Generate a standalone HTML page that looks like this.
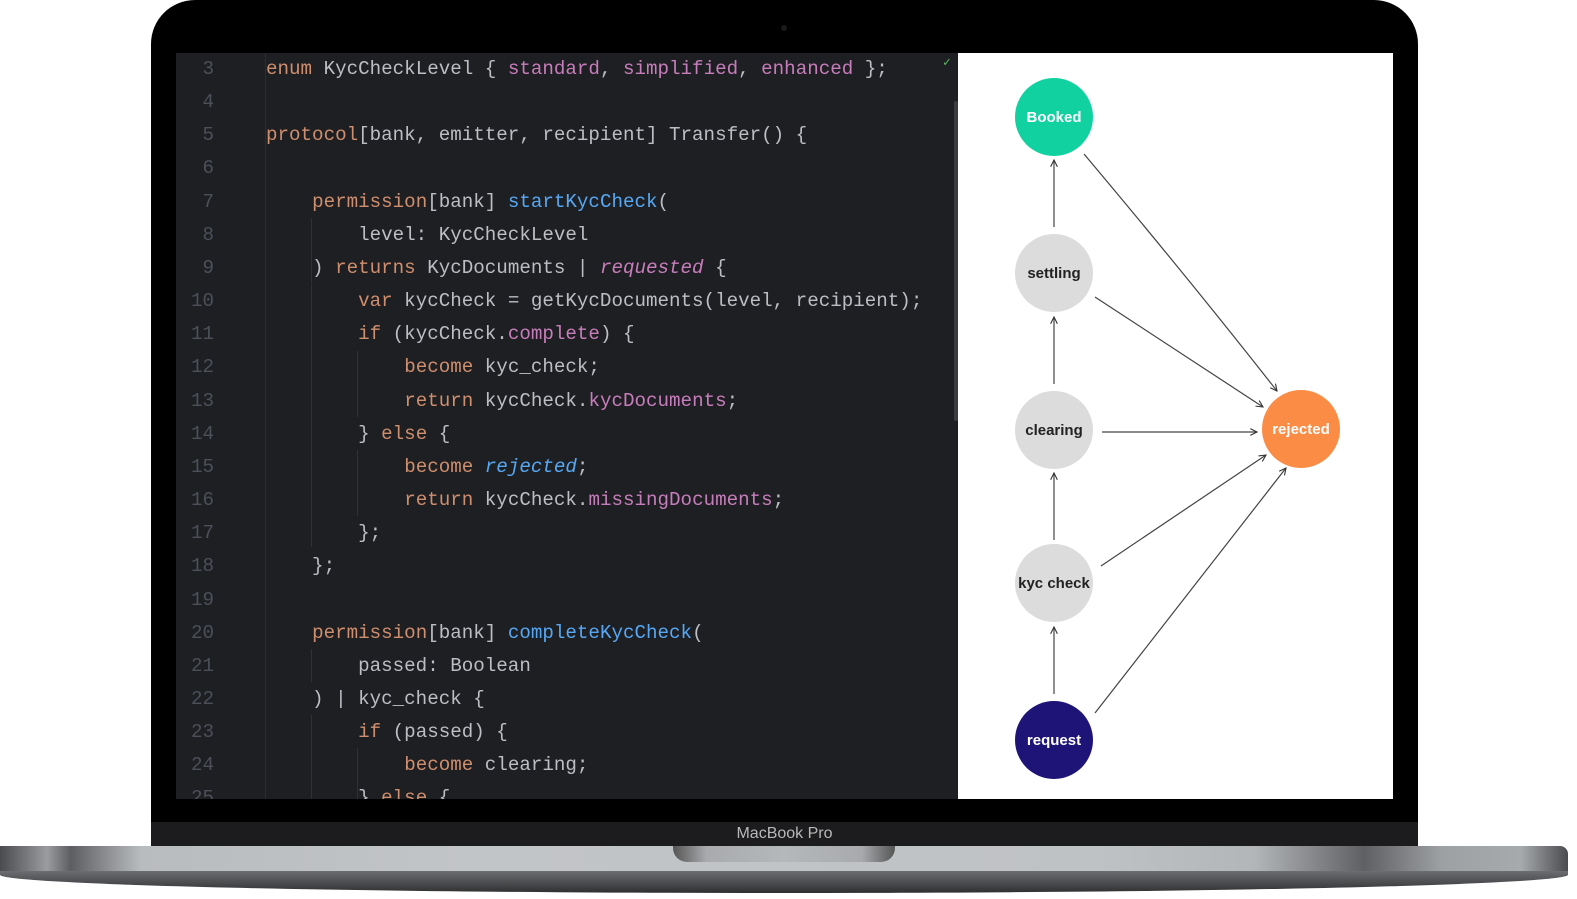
<!DOCTYPE html>
<html><head><meta charset="utf-8"><style>
*{margin:0;padding:0;box-sizing:border-box}
body{width:1577px;height:899px;background:#fff;position:relative;overflow:hidden;font-family:"Liberation Sans",sans-serif}
.lid{position:absolute;left:151px;top:0;width:1267px;height:850px;background:#000;border-radius:44px 44px 0 0}
.chin{position:absolute;left:151px;top:822px;width:1267px;height:26px;background:#1c1c1e;color:#b8b8b8;font-size:16px;text-align:center;line-height:24px}
.base{position:absolute;left:0;top:846px;width:1568px;height:26px;background:linear-gradient(90deg,#4a4b4e 0%,#9a9c9f 3%,#5d5e61 4.5%,#b9bcbf 9%,#c2c5c8 30%,#bfc2c5 70%,#b3b6b9 80%,#5f6063 87%,#9ea1a4 92%,#a7aaad 97%,#4a4b4e 100%);border-radius:0 8px 0 0}
.base2{position:absolute;left:0;top:871px;width:1568px;height:22px;background:linear-gradient(180deg,#6c6d70,#2e2f31);border-radius:0 0 60% 60%/0 0 100% 100%}
.notch{position:absolute;left:673px;top:846px;width:222px;height:16px;background:linear-gradient(90deg,#555 0%,#a8aaad 15%,#b5b8bb 50%,#a8aaad 85%,#555 100%);border-radius:0 0 14px 14px}
.code{position:absolute;left:176px;top:53px;width:782px;height:746px;background:#1e1f22;overflow:hidden;font-family:"Liberation Mono",monospace;font-size:19.2px;color:#bcbec4}
.ln{position:absolute;left:0;width:38px;text-align:right;color:#4b5059}
.l{position:absolute;left:90px;white-space:pre}
.g{position:absolute;width:1px;background:#2f3136}
.k{color:#cf8e6d}.p{color:#c77dbb}.b{color:#56a8f5}.i{font-style:italic}
.graph{position:absolute;left:958px;top:53px;width:435px;height:746px;background:#fff}
</style></head><body>
<div class="lid"></div>
<div class="chin">MacBook Pro</div>
<div class="base"></div><div class="base2"></div><div class="notch"></div>
<div style="position:absolute;left:781px;top:25px;width:6px;height:6px;border-radius:50%;background:#1a1a1a"></div>
<div class="code">
<div class="g" style="left:89px;top:0;height:746px;background:#2b2d30"></div>
<div class="g" style="left:135px;top:165px;height:66px"></div>
<div class="g" style="left:135px;top:232px;height:262px"></div>
<div class="g" style="left:181px;top:298px;height:66px"></div>
<div class="g" style="left:181px;top:397px;height:66px"></div>
<div class="g" style="left:135px;top:596px;height:33px"></div>
<div class="g" style="left:135px;top:662px;height:90px"></div>
<div class="g" style="left:181px;top:695px;height:60px"></div>
<div style="position:absolute;left:778px;top:48px;width:4px;height:320px;background:#3a3c40;border-radius:2px"></div>
<div style="position:absolute;left:767px;top:2px;color:#5fb865;font-size:13px">✓</div>
<div id="lines"></div>
<div class="ln" style="top:5px">3</div><div class="l" style="top:5px"><span class="k">enum</span> KycCheckLevel { <span class="p">standard</span>, <span class="p">simplified</span>, <span class="p">enhanced</span> };</div>
<div class="ln" style="top:38px">4</div>
<div class="ln" style="top:71px">5</div><div class="l" style="top:71px"><span class="k">protocol</span>[bank, emitter, recipient] Transfer() {</div>
<div class="ln" style="top:104px">6</div>
<div class="ln" style="top:138px">7</div><div class="l" style="top:138px">    <span class="k">permission</span>[bank] <span class="b">startKycCheck</span>(</div>
<div class="ln" style="top:171px">8</div><div class="l" style="top:171px">        level: KycCheckLevel</div>
<div class="ln" style="top:204px">9</div><div class="l" style="top:204px">    ) <span class="k">returns</span> KycDocuments | <span class="p i">requested</span> {</div>
<div class="ln" style="top:237px">10</div><div class="l" style="top:237px">        <span class="k">var</span> kycCheck = getKycDocuments(level, recipient);</div>
<div class="ln" style="top:270px">11</div><div class="l" style="top:270px">        <span class="k">if</span> (kycCheck.<span class="p">complete</span>) {</div>
<div class="ln" style="top:303px">12</div><div class="l" style="top:303px">            <span class="k">become</span> kyc_check;</div>
<div class="ln" style="top:337px">13</div><div class="l" style="top:337px">            <span class="k">return</span> kycCheck.<span class="p">kycDocuments</span>;</div>
<div class="ln" style="top:370px">14</div><div class="l" style="top:370px">        } <span class="k">else</span> {</div>
<div class="ln" style="top:403px">15</div><div class="l" style="top:403px">            <span class="k">become</span> <span class="b i">rejected</span>;</div>
<div class="ln" style="top:436px">16</div><div class="l" style="top:436px">            <span class="k">return</span> kycCheck.<span class="p">missingDocuments</span>;</div>
<div class="ln" style="top:469px">17</div><div class="l" style="top:469px">        };</div>
<div class="ln" style="top:502px">18</div><div class="l" style="top:502px">    };</div>
<div class="ln" style="top:536px">19</div>
<div class="ln" style="top:569px">20</div><div class="l" style="top:569px">    <span class="k">permission</span>[bank] <span class="b">completeKycCheck</span>(</div>
<div class="ln" style="top:602px">21</div><div class="l" style="top:602px">        passed: Boolean</div>
<div class="ln" style="top:635px">22</div><div class="l" style="top:635px">    ) | kyc_check {</div>
<div class="ln" style="top:668px">23</div><div class="l" style="top:668px">        <span class="k">if</span> (passed) {</div>
<div class="ln" style="top:701px">24</div><div class="l" style="top:701px">            <span class="k">become</span> clearing;</div>
<div class="ln" style="top:734px">25</div><div class="l" style="top:734px">        } <span class="k">else</span> {</div>
</div>
<div class="graph">
<svg width="435" height="746" viewBox="958 53 435 746" style="position:absolute;left:0;top:0">
<defs><marker id="a" viewBox="0 0 10 10" refX="9" refY="5" markerWidth="7" markerHeight="7" orient="auto"><path d="M1 1L9 5L1 9" fill="none" stroke="#333" stroke-width="1.3"/></marker></defs>
<g stroke="#444" stroke-width="1.2" fill="none" marker-end="url(#a)">
<line x1="1054" y1="227" x2="1054" y2="160"/>
<line x1="1054" y1="384" x2="1054" y2="317"/>
<line x1="1054" y1="540" x2="1054" y2="473"/>
<line x1="1054" y1="694" x2="1054" y2="627"/>
<path d="M1084 154 Q1190 280 1277 391"/>
<line x1="1095" y1="297" x2="1263" y2="407"/>
<line x1="1102" y1="432" x2="1257" y2="432"/>
<line x1="1101" y1="566" x2="1266" y2="455"/>
<line x1="1095" y1="713" x2="1286" y2="468"/>
</g>
<g font-family="Liberation Sans,sans-serif" font-weight="bold" font-size="15" text-anchor="middle">
<circle cx="1054" cy="117" r="39" fill="#12d1a0"/><text x="1054" y="122" fill="#fff">Booked</text>
<circle cx="1054" cy="273" r="39" fill="#dcdcdc"/><text x="1054" y="278" fill="#222">settling</text>
<circle cx="1054" cy="430" r="39" fill="#dcdcdc"/><text x="1054" y="435" fill="#222">clearing</text>
<circle cx="1054" cy="583" r="39" fill="#dcdcdc"/><text x="1054" y="588" fill="#222">kyc check</text>
<circle cx="1054" cy="740" r="39" fill="#1e1478"/><text x="1054" y="745" fill="#fff">request</text>
<circle cx="1301" cy="429" r="39" fill="#fa8c46"/><text x="1301" y="434" fill="#fff">rejected</text>
</g>
</svg>
</div>
</body></html>
